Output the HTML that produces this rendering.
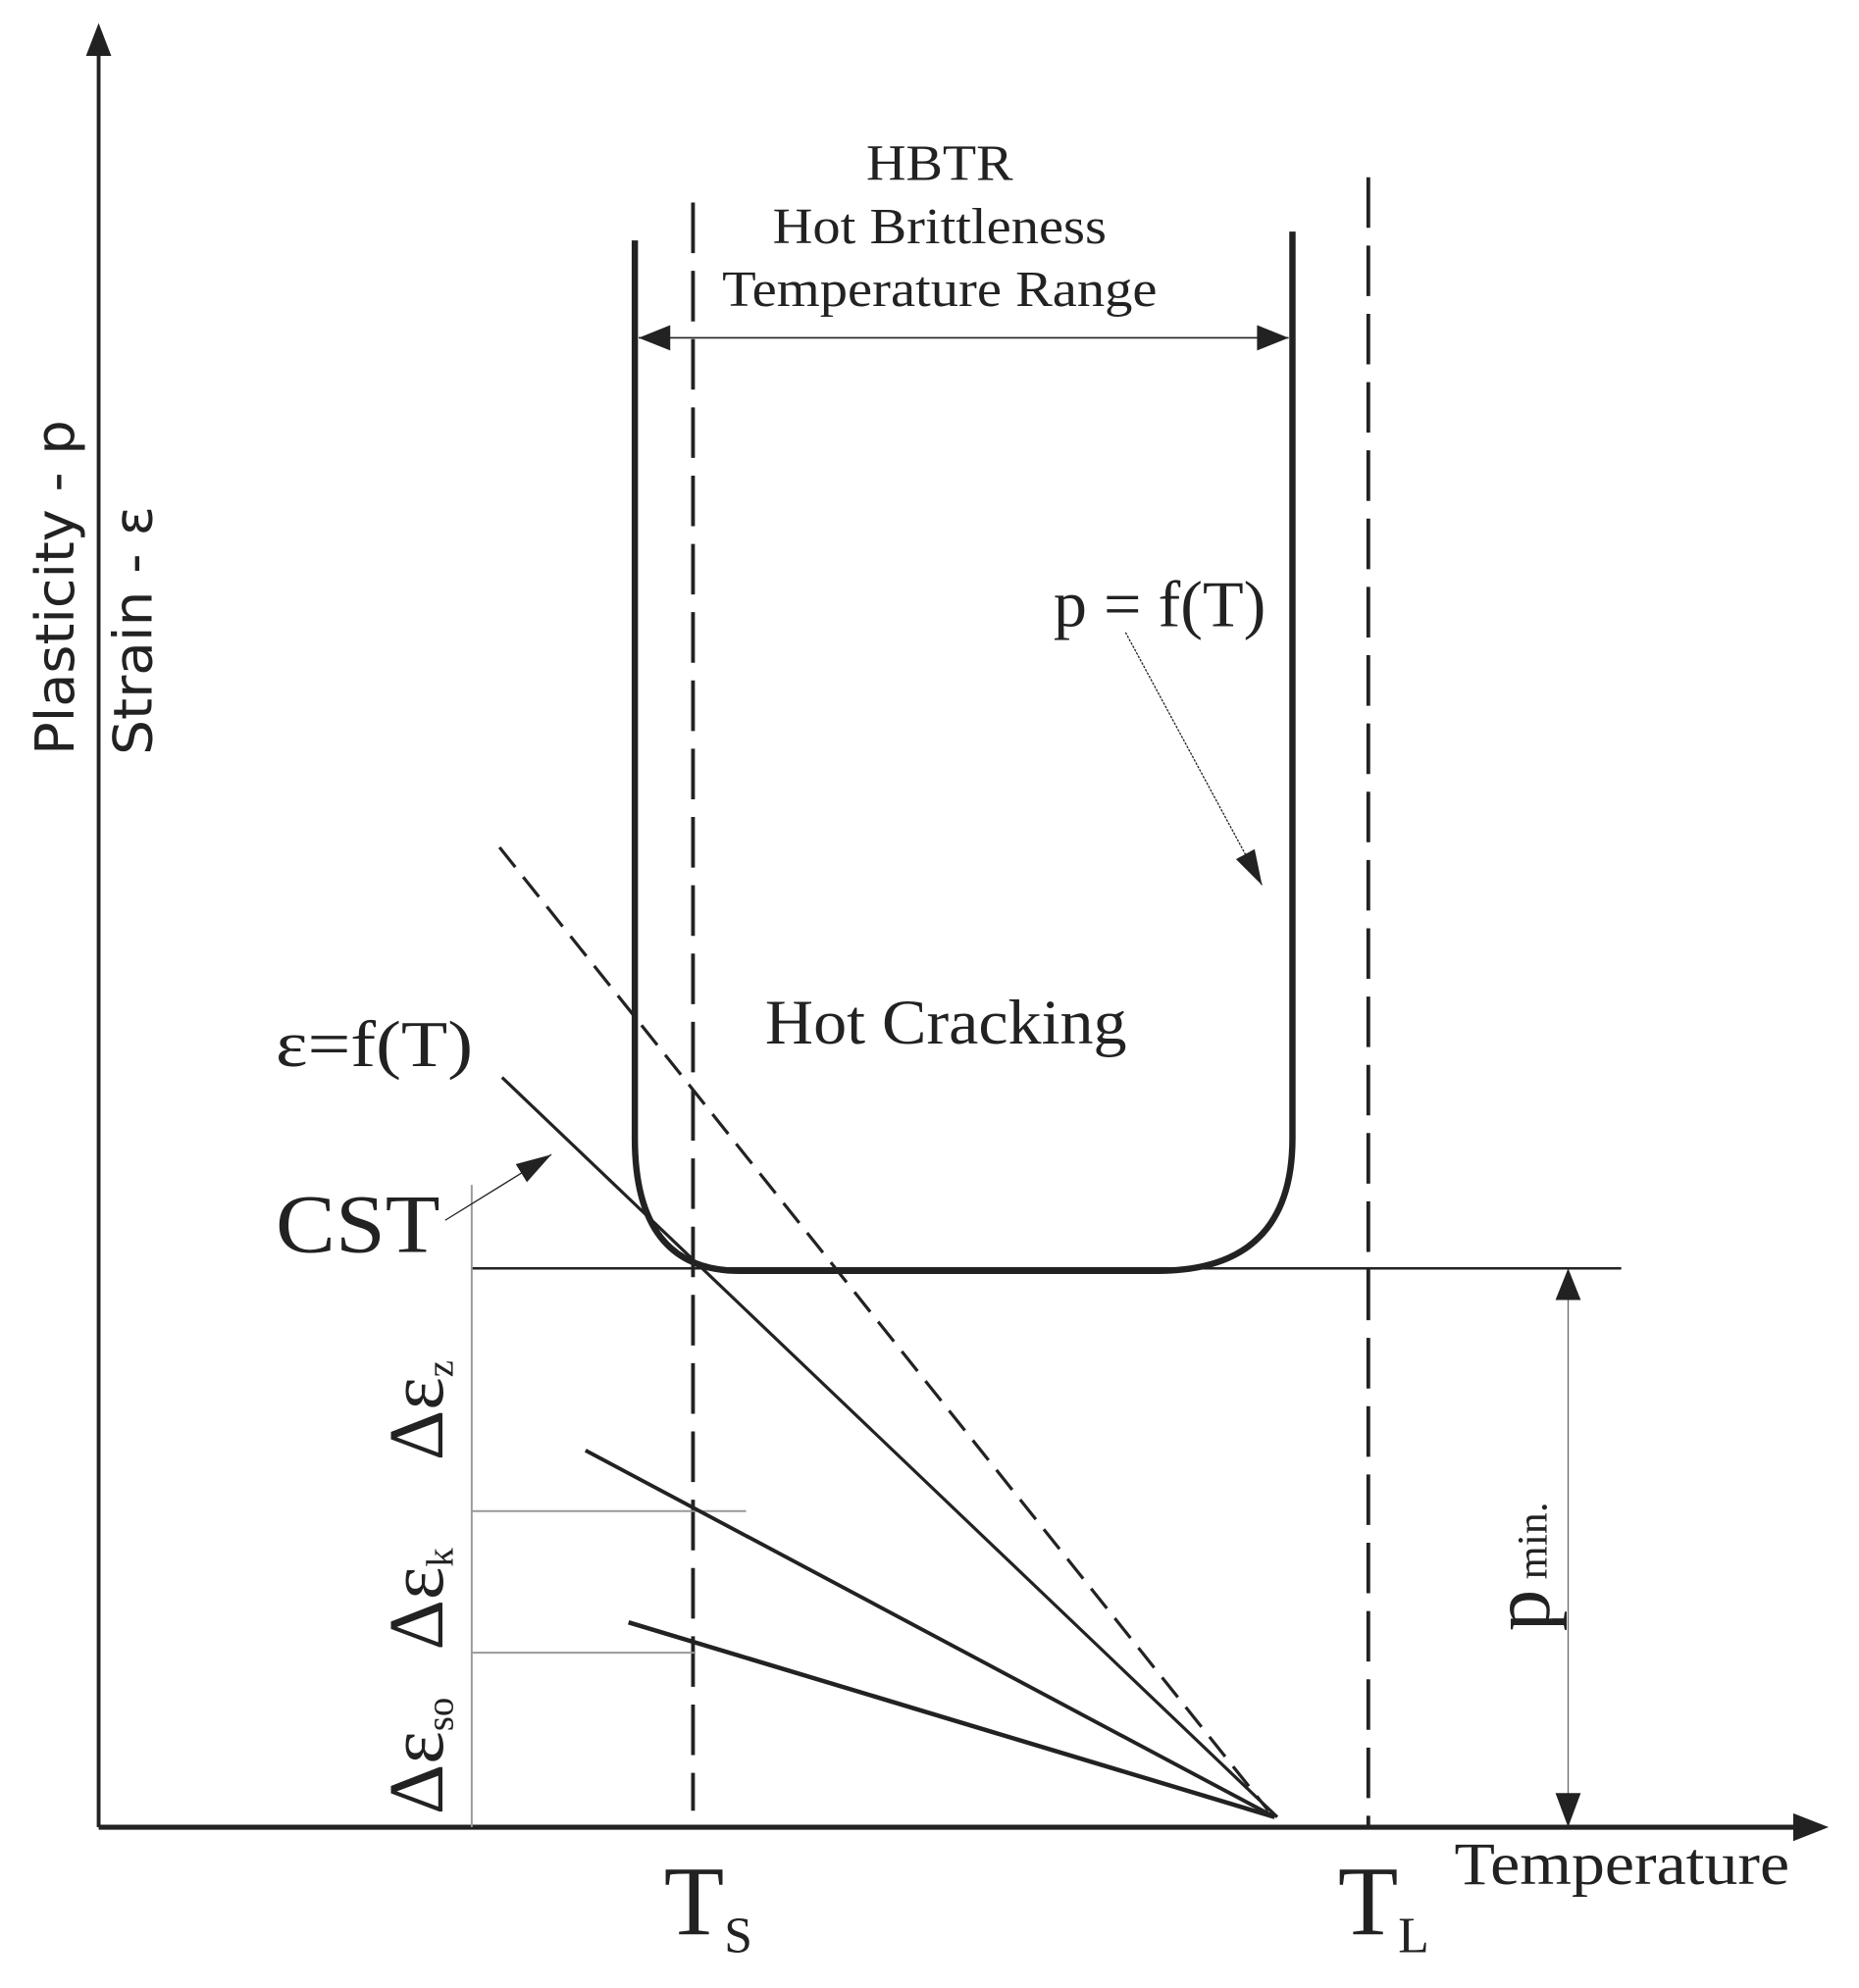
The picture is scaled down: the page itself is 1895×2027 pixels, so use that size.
<!DOCTYPE html>
<html><head><meta charset="utf-8"><style>html,body{margin:0;padding:0;background:#fff}svg{display:block}</style></head><body>
<svg width="1895" height="2027" viewBox="0 0 1470 1572" xmlns="http://www.w3.org/2000/svg">
<defs>
<marker id="ahb" viewBox="0 0 10 10" refX="10" refY="5" markerWidth="28" markerHeight="28" markerUnits="userSpaceOnUse" orient="auto"><path d="M0,2 L10,5 L0,8 z" fill="#222"/></marker>
</defs>
<g stroke="#222" fill="none">
<line x1="78" y1="1445" x2="78" y2="40" stroke-width="3"/>
<path d="M78,18 L68,44 L88,44 z" fill="#222" stroke="none"/>
<line x1="78" y1="1445" x2="1422" y2="1445" stroke-width="4"/>
<path d="M1446,1445 L1418,1434 L1418,1456 z" fill="#222" stroke="none"/>
<path d="M502,190 L502,900 Q502,1005 585,1005 L915,1005 Q1022,1005 1022,900 L1022,183" stroke-width="5"/>
<line x1="505" y1="267" x2="1019" y2="267" stroke-width="1.2"/>
<path d="M505,267 L530,257 L530,277 z M1019,267 L994,257 L994,277 z" fill="#222" stroke="none"/>
<line x1="548" y1="160" x2="548" y2="1432" stroke-width="3" stroke-dasharray="40,14"/>
<line x1="1082" y1="140" x2="1082" y2="1445" stroke-width="3" stroke-dasharray="40,14"/>
<line x1="373" y1="1003" x2="1282" y2="1003" stroke-width="2"/>
<g stroke="#999" stroke-width="1.5">
<line x1="373" y1="937" x2="373" y2="1445"/>
<line x1="373" y1="1195" x2="590" y2="1195"/>
<line x1="373" y1="1307" x2="550" y2="1307"/>
</g>
<line x1="397" y1="852" x2="1010" y2="1437" stroke-width="2.5"/>
<line x1="395" y1="670" x2="1003" y2="1432" stroke-width="2.5" stroke-dasharray="20,10"/>
<line x1="463" y1="1147" x2="1008" y2="1437" stroke-width="3"/>
<line x1="497" y1="1283" x2="1008" y2="1437" stroke-width="3.5"/>
<line x1="1240" y1="1010" x2="1240" y2="1440" stroke-width="1" stroke="#666"/>
<path d="M1240,1003 L1230,1028 L1250,1028 z M1240,1445 L1230,1418 L1250,1418 z" fill="#222" stroke="none"/>
<line x1="890" y1="500" x2="998" y2="700" stroke-width="1" stroke-dasharray="2,1" marker-end="url(#ahb)"/>
<line x1="352" y1="965" x2="436" y2="913" stroke-width="1" marker-end="url(#ahb)"/>
</g>
<g font-family="Liberation Serif, serif" fill="#222">
<text x="685" y="142" font-size="40" textLength="116" lengthAdjust="spacingAndGlyphs">HBTR</text>
<text x="611" y="192" font-size="40" textLength="264" lengthAdjust="spacingAndGlyphs">Hot Brittleness</text>
<text x="571" y="242" font-size="40" textLength="344" lengthAdjust="spacingAndGlyphs">Temperature Range</text>
<text x="833" y="495" font-size="52" textLength="168" lengthAdjust="spacingAndGlyphs">p = f(T)</text>
<text x="605" y="825" font-size="50" textLength="286" lengthAdjust="spacingAndGlyphs">Hot Cracking</text>
<text x="218" y="843" font-size="52" textLength="156" lengthAdjust="spacingAndGlyphs">ε=f(T)</text>
<text x="218" y="990" font-size="66" textLength="130" lengthAdjust="spacingAndGlyphs">CST</text>
<text x="1150" y="1490" font-size="48" textLength="265" lengthAdjust="spacingAndGlyphs">Temperature</text>
<text x="525" y="1530" font-size="78">T<tspan font-size="40" dy="14">S</tspan></text>
<text x="1058" y="1530" font-size="78">T<tspan font-size="40" dy="14">L</tspan></text>
<text transform="translate(350,1155) rotate(-90)" font-size="62">Δε<tspan font-size="30" dy="8">z</tspan></text>
<text transform="translate(350,1305) rotate(-90)" font-size="62">Δε<tspan font-size="30" dy="8">k</tspan></text>
<text transform="translate(350,1435) rotate(-90)" font-size="62">Δε<tspan font-size="30" dy="8">so</tspan></text>
<text transform="translate(1225,1290) rotate(-90)" font-size="66">p<tspan font-size="34" dx="8" dy="-2">min.</tspan></text>
</g>
<g font-family="DejaVu Sans, sans-serif" fill="#222" font-size="42">
<text transform="translate(58,597) rotate(-90)" textLength="265" lengthAdjust="spacingAndGlyphs">Plasticity - p</text>
<text transform="translate(120,597) rotate(-90)" textLength="197" lengthAdjust="spacingAndGlyphs">Strain - ε</text>
</g>
</svg>
</body></html>
